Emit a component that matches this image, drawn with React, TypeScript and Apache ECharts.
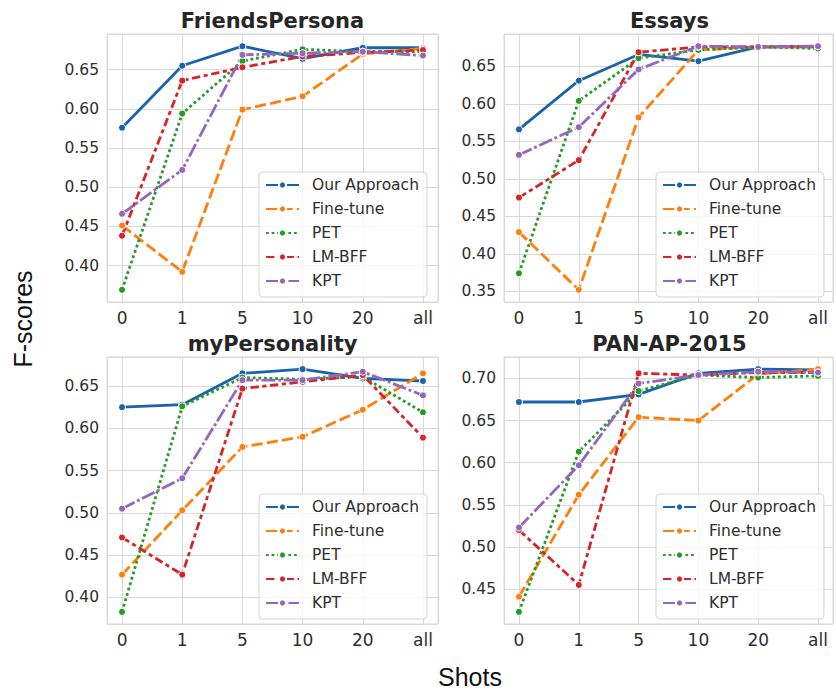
import React, { useEffect, useRef } from 'react';
import * as echarts from 'echarts';

const shots = ['0', '1', '5', '10', '20', 'all'];
const methodNames = ['Our Approach', 'Fine-tune', 'PET', 'LM-BFF', 'KPT'];

// FriendsPersona
const friendsOur = [0.576, 0.655, 0.680, 0.664, 0.678, 0.678];
const friendsFine = [0.451, 0.392, 0.599, 0.616, 0.670, 0.677];
const friendsPet = [0.369, 0.594, 0.661, 0.676, 0.673, 0.673];
const friendsLmbff = [0.438, 0.636, 0.653, 0.667, 0.672, 0.675];
const friendsKpt = [0.466, 0.522, 0.669, 0.671, 0.673, 0.668];

// Essays
const essaysOur = [0.566, 0.631, 0.666, 0.657, 0.676, 0.676];
const essaysFine = [0.429, 0.352, 0.582, 0.672, 0.676, 0.676];
const essaysPet = [0.374, 0.604, 0.661, 0.672, 0.676, 0.674];
const essaysLmbff = [0.475, 0.525, 0.669, 0.676, 0.676, 0.677];
const essaysKpt = [0.532, 0.569, 0.646, 0.677, 0.676, 0.677];

// myPersonality
const myPersOur = [0.625, 0.628, 0.665, 0.670, 0.659, 0.656];
const myPersFine = [0.427, 0.503, 0.578, 0.590, 0.622, 0.665];
const myPersPet = [0.383, 0.626, 0.660, 0.658, 0.661, 0.619];
const myPersLmbff = [0.471, 0.427, 0.647, 0.655, 0.663, 0.589];
const myPersKpt = [0.505, 0.541, 0.657, 0.657, 0.667, 0.639];

// PAN-AP-2015
const panOur = [0.672, 0.672, 0.681, 0.706, 0.711, 0.710];
const panFine = [0.441, 0.562, 0.654, 0.650, 0.705, 0.711];
const panPet = [0.423, 0.613, 0.685, 0.704, 0.701, 0.703];
const panLmbff = [0.520, 0.455, 0.706, 0.704, 0.707, 0.707];
const panKpt = [0.523, 0.597, 0.694, 0.704, 0.708, 0.707];

const panelTitles = ['FriendsPersona', 'Essays', 'myPersonality', 'PAN-AP-2015'];
const panelSeries = [
  [friendsOur, friendsFine, friendsPet, friendsLmbff, friendsKpt],
  [essaysOur, essaysFine, essaysPet, essaysLmbff, essaysKpt],
  [myPersOur, myPersFine, myPersPet, myPersLmbff, myPersKpt],
  [panOur, panFine, panPet, panLmbff, panKpt],
];

const FONT = "'DejaVu Sans', sans-serif";
const GRID_COLOR = '#dcd7d9';
const TEXT_COLOR = '#2e2e2e';
const colors = ['#1a63aa', '#ff7f0e', '#259b25', '#d22629', '#9467bd'];
const LW = 2.8;
const lineTypes: any[] = [
  'solid',
  [4 * LW, 1.5 * LW],
  [1 * LW, 1 * LW],
  [3 * LW, 1.25 * LW, 1.5 * LW, 1.25 * LW],
  [5 * LW, 1 * LW, 1 * LW, 1 * LW],
];

const gridBoxes = [
  { left: 107, top: 34, width: 331, height: 268 },
  { left: 504, top: 34, width: 331, height: 268 },
  { left: 107, top: 357, width: 331, height: 267 },
  { left: 504, top: 357, width: 331, height: 267 },
];
const legendPos = [
  { left: 259, top: 172 },
  { left: 656, top: 172 },
  { left: 259, top: 494 },
  { left: 656, top: 494 },
];

function buildOption() {
  const grid: any[] = [];
  const xAxis: any[] = [];
  const yAxis: any[] = [];
  const series: any[] = [];
  const legend: any[] = [];
  const graphic: any[] = [];

  panelSeries.forEach((group, i) => {
    const box = gridBoxes[i];
    grid.push({
      ...box,
      show: true,
      borderColor: GRID_COLOR,
      borderWidth: 1,
      backgroundColor: '#ffffff',
      containLabel: false,
    });
    const all = group.flat();
    const dmin = Math.min(...all);
    const dmax = Math.max(...all);
    const pad = (dmax - dmin) * 0.05;
    xAxis.push({
      type: 'value',
      gridIndex: i,
      min: -0.25,
      max: 5.25,
      minInterval: 1,
      maxInterval: 1,
      axisLine: { show: false },
      axisTick: { show: false },
      splitLine: { show: true, lineStyle: { color: GRID_COLOR, width: 1 } },
      axisLabel: {
        margin: 7,
        fontFamily: FONT,
        fontSize: 17,
        color: TEXT_COLOR,
        formatter: (v: number) => {
          const r = Math.round(v);
          return Math.abs(v - r) < 1e-6 && r >= 0 && r < shots.length ? shots[r] : '';
        },
      },
    });
    yAxis.push({
      type: 'value',
      gridIndex: i,
      min: dmin - pad,
      max: dmax + pad,
      minInterval: 0.05,
      maxInterval: 0.05,
      axisLine: { show: false },
      axisTick: { show: false },
      splitLine: { show: true, lineStyle: { color: GRID_COLOR, width: 1 } },
      axisLabel: {
        margin: 8,
        fontFamily: FONT,
        fontSize: 15.5,
        color: TEXT_COLOR,
        formatter: (v: number) => {
          const k = v / 0.05;
          return Math.abs(k - Math.round(k)) < 1e-6 ? v.toFixed(2) : '';
        },
      },
    });
    group.forEach((vals, m) => {
      series.push({
        type: 'line',
        name: methodNames[m],
        xAxisIndex: i,
        yAxisIndex: i,
        data: vals.map((v, j) => [j, v]),
        symbol: 'circle',
        symbolSize: 7,
        itemStyle: { color: colors[m], borderColor: '#ffffff', borderWidth: 1 },
        lineStyle: { color: colors[m], width: LW, type: lineTypes[m] },
        emphasis: { disabled: true },
      });
    });
    legend.push({
      orient: 'vertical',
      left: legendPos[i].left,
      top: legendPos[i].top,
      data: methodNames,
      itemWidth: 33,
      itemHeight: 9,
      itemGap: 8,
      padding: [5, 8, 8, 6],
      backgroundColor: 'rgba(255,255,255,0.8)',
      borderColor: '#d4d4d4',
      borderWidth: 1,
      borderRadius: 4,
      selectedMode: false,
      textStyle: {
        fontFamily: FONT,
        fontSize: 15.5,
        lineHeight: 16,
        color: TEXT_COLOR,
        padding: [0, 0, 0, 8],
      },
    });
    graphic.push({
      type: 'text',
      x: box.left + box.width / 2,
      y: box.top - 13.5,
      style: {
        text: panelTitles[i],
        font: `bold 21px ${FONT}`,
        fill: '#262626',
        textAlign: 'center',
        textVerticalAlign: 'middle',
      },
    });
  });

  graphic.push({
    type: 'text',
    x: 23,
    y: 319,
    rotation: Math.PI / 2,
    style: {
      text: 'F-scores',
      font: "25px 'Liberation Sans', Arial, sans-serif",
      fill: '#111111',
      textAlign: 'center',
      textVerticalAlign: 'middle',
    },
  });
  graphic.push({
    type: 'text',
    x: 470,
    y: 677,
    style: {
      text: 'Shots',
      font: "25px 'Liberation Sans', Arial, sans-serif",
      fill: '#111111',
      textAlign: 'center',
      textVerticalAlign: 'middle',
    },
  });

  return {
    animation: false,
    backgroundColor: '#ffffff',
    grid,
    xAxis,
    yAxis,
    series,
    legend,
    graphic,
  };
}

export default function App() {
  const ref = useRef<HTMLDivElement>(null);
  useEffect(() => {
    if (!ref.current) return;
    const chart = echarts.init(ref.current, undefined, { renderer: 'svg' });
    chart.setOption(buildOption());
    return () => {
      chart.dispose();
    };
  }, []);
  return (
    <div
      ref={ref}
      style={{ position: 'absolute', left: 0, top: 0, width: 836, height: 690 }}
    />
  );
}
